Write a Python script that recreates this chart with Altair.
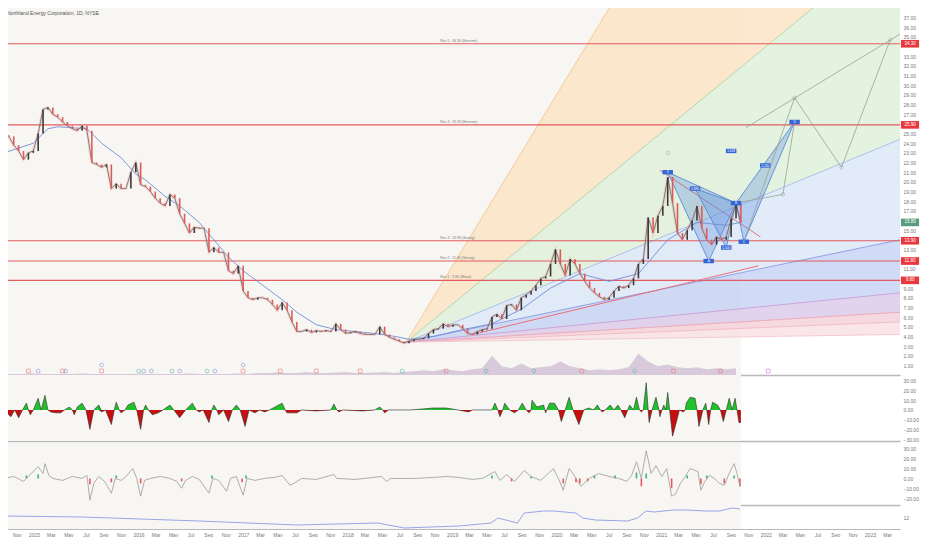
import altair as alt
import pandas as pd

# one time step = 3.411 calendar days
start = pd.Timestamp("2014-09-18")
step_days = 3.411
t_last_bar = 755
t_end = 918

title_text = "Northland Energy Corporation, 1D, NYSE"

# daily closes, sampled every 5 steps
close_t = list(range(0, 756, 5))
close = [24.8, 24.7, 23.8, 23.2, 22.3, 23.0, 23.2, 25.0, 27.5, 27.7,
         27.0, 26.7, 26.2, 25.8, 25.5, 25.3, 25.8, 25.3, 22.0, 21.8,
         21.5, 21.8, 19.3, 19.8, 19.3, 19.3, 21.0, 22.0, 19.7, 19.5,
         19.0, 18.3, 17.8, 17.5, 18.7, 18.3, 16.7, 15.7, 14.7, 15.3,
         15.2, 15.2, 12.7, 13.2, 12.7, 12.7, 10.8, 10.5, 11.3, 8.7,
         8.0, 7.8, 8.0, 8.0, 7.8, 7.3, 6.7, 7.5, 6.7, 5.5,
         4.5, 4.5, 4.7, 4.4, 4.6, 4.5, 4.6, 4.5, 5.3, 4.7,
         4.3, 4.4, 4.5, 4.3, 4.2, 4.2, 4.2, 5.0, 4.2, 3.9,
         3.7, 3.5, 3.3, 3.5, 3.7, 3.7, 3.8, 4.3, 4.7, 4.8,
         5.3, 5.0, 5.2, 5.2, 4.8, 4.3, 4.2, 4.5, 4.7, 4.8,
         6.0, 6.3, 5.8, 7.2, 7.3, 6.7, 8.0, 8.3, 8.7, 9.3,
         10.0, 10.2, 11.5, 13.0, 11.5, 10.3, 12.0, 11.5, 10.5, 9.7,
         9.0, 8.5, 8.1, 7.8, 8.0, 8.7, 9.2, 9.0, 9.3, 10.0,
         11.5, 12.0, 16.3, 14.7, 16.5, 17.5, 20.5, 17.8, 14.7, 14.0,
         15.0, 16.0, 17.5, 15.2, 14.0, 13.5, 14.3, 14.0, 14.3, 16.2,
         17.7, 15.8]

ma_t = [0, 30, 45, 55, 85, 100, 120, 135, 145, 165, 180, 200, 215, 230, 245, 265, 285, 300,
        320, 340, 360, 380, 400, 415, 440, 470, 500, 530, 560, 590, 620, 650, 680, 710, 740, 755]
ma = [23.0, 24.0, 25.5, 25.7, 25.5, 24.0, 22.5, 20.8, 20.2, 18.5, 17.5, 15.8, 14.0, 12.2, 10.8, 9.3, 7.8, 6.5,
      5.2, 4.7, 4.5, 4.3, 4.0, 3.7, 4.0, 4.7, 5.3, 6.8, 9.0, 10.5, 9.7, 10.5, 14.0, 15.8, 15.5, 15.8]

res_levels = [34.3, 25.9, 13.9, 11.8, 9.8]
res_labels = ["Res 5 : 34.30 (Extreme)", "Res 4 : 25.90 (Extreme)", "Res 3 : 13.90 (Strong)",
              "Res 2 : 11.80 (Strong)", "Res 1 : 9.80 (Minor)"]
last_price = 15.8

vol_t = list(range(0, 751, 10))
vol = [1, 1, 1, 1.5, 1, 1, 1, 1, 1.5, 1, 1, 1, 1, 1, 1.5, 1, 1, 1, 1, 1.5, 1, 1, 1, 1, 1.5, 1,
       2, 2, 2.5, 2, 2, 3, 2, 2, 2.5, 3, 2, 2, 2.5, 3, 2, 3,
       4, 5, 4, 6, 5, 4, 6, 7, 20, 9, 7, 12, 7, 8, 9, 14, 9, 7, 5, 6, 5, 6, 8, 22, 14, 9, 11, 8, 7, 8, 6, 7, 6, 7]

# event markers along the volume baseline
ev_red = [25, 60, 100, 245, 283, 320, 365, 453, 592, 686, 734]
ev_blue = [35, 63, 143, 151, 180, 216]
ev_blue_hi = [100, 245]
ev_teal = [138, 172, 208, 408, 494, 543, 646]
ev_pink = [783]

# fan from the low: origin and the price each ray reaches at the right edge
fan_t0, fan_p0 = 412, 3.4
fan_ray_end = [87.5, 45.4, 24.4, 14.0, 8.5, 6.5, 5.5, 4.2]
fan_fill = ["#fbe4c6", "#dff0da", "#dde9f8", "#c9d3f5", "#dccbea", "#f4d2da", "#f9e1e4"]
fan_stroke = ["#f3c08a", "#a5d1a2", "#97b8e8", "#7d92e0", "#c596d3", "#ea9dac", "#f0b4be", "#f3c2c9"]

# harmonic pattern points
pat_t = [680, 708, 722, 740, 750, 758, 810]
pat_p = [21.0, 19.3, 11.8, 13.2, 17.8, 13.8, 26.2]
pat_tris = [(0, 4, 2), (1, 4, 3), (4, 5, 6)]
tag_t = [680, 708, 722, 740, 750, 758, 810, 745, 780]
tag_p = [21.0, 19.3, 11.8, 13.2, 17.8, 13.8, 26.2, 23.2, 21.7]
tag_text = ["X", "0.886", "A", "0.500", "B", "C", "D", "1.618", "2.240"]

proj_lines = [([758, 810, 858, 908], [13.8, 28.7, 21.5, 34.7]),
              ([760, 918], [25.6, 35.3]),
              ([750, 798, 810], [17.8, 18.7, 26.2])]
proj_pt_t = [810, 858, 908, 798, 680]
proj_pt_p = [28.7, 21.5, 34.7, 18.7, 23.0]

trend_lines = [([672, 775], [21.2, 14.3]), ([480, 773], [4.2, 11.3])]

osc = [(0, 0), (7, -7), (11, 0), (15, -8), (19, 0), (23, 7), (25, 0), (27, -5), (30, 0), (35, 12), (38, 0),
       (42, 15), (45, 0), (48, -2), (53, -3), (58, -3), (62, 0), (67, 3), (70, 0), (72, -5), (74, 0), (75, 3),
       (80, 7), (84, 0), (88, -20), (92, 0), (97, 5), (100, -2), (104, 0), (110, -15), (113, 0), (115, 8),
       (118, 0), (120, -3), (124, 0), (127, 5), (133, 8), (136, 0), (140, -20), (143, 0), (145, 5), (148, 0),
       (152, -5), (158, -3), (163, 0), (170, 5), (174, 0), (180, -8), (186, 0), (193, 7), (197, 0), (200, -2),
       (204, 0), (210, -13), (213, 0), (215, 5), (218, 0), (220, -5), (225, 0), (230, -12), (234, 0), (238, 5),
       (242, 0), (247, -17), (251, 0), (257, -3), (262, 0), (267, -2), (272, 0), (285, 7), (288, 0), (290, -3),
       (300, -3), (305, 0), (320, -1), (335, 0), (338, 6), (341, 0), (343, -2), (347, 0), (367, -1), (380, 0),
       (385, 3), (388, 0), (390, -3), (394, 0), (417, 0), (440, 2), (453, 2), (465, 0), (476, -2), (480, 0),
       (500, 0), (503, 7), (506, 0), (508, -7), (511, 0), (513, 7), (518, 0), (523, -3), (527, 0), (531, 7),
       (535, 0), (538, -3), (540, 0), (541, 10), (546, 3), (553, 5), (554, 0), (555, -3), (556, 0), (559, 7),
       (564, 7), (568, 0), (571, -12), (575, 0), (579, 13), (583, 0), (589, -15), (594, 0), (599, 2), (604, 0),
       (608, 5), (611, 0), (613, -2), (616, 0), (621, 5), (625, 0), (629, 5), (632, 0), (636, -8), (639, 0),
       (641, 5), (645, 0), (648, 13), (651, 0), (653, -2), (655, 0), (658, 28), (660, 0), (661, -13), (664, 0),
       (668, 13), (671, 0), (672, -7), (674, 0), (676, 5), (678, 0), (680, 18), (682, 0), (685, -27), (689, -12),
       (692, 0), (696, -2), (698, 0), (699, 7), (703, 13), (708, 12), (710, 0), (712, -17), (716, 0), (719, 7),
       (720, 0), (722, -15), (724, 0), (726, 8), (731, 5), (734, 0), (737, -12), (740, 0), (743, 12), (746, 0),
       (749, 12), (751, 0), (753, -13), (755, -13)]

mom = [(0, 0), (10, 2), (20, -3), (25, 2), (35, 12), (40, 5), (42, 15), (46, 3), (50, 0), (60, -2), (70, 2),
       (80, 0), (85, 3), (88, -22), (92, -5), (97, 2), (103, -3), (110, -15), (114, 0), (120, -2), (125, 2),
       (132, 10), (136, 0), (140, -18), (144, -2), (150, 0), (160, 2), (170, 0), (177, -3), (182, -10),
       (186, -2), (193, 2), (200, -1), (210, -15), (214, 0), (220, -2), (228, -13), (232, 0), (238, 2),
       (245, -17), (249, 0), (257, -2), (267, 0), (277, 1), (285, 3), (293, -7), (297, -5), (305, 0), (320, -1),
       (338, 4), (341, 0), (360, -1), (387, 2), (392, -3), (396, 0), (420, 0), (440, 1), (453, 2), (466, 1),
       (480, -1), (490, 0), (503, 7), (508, -2), (515, 4), (523, -3), (533, 8), (540, 2), (550, -2), (563, 10),
       (568, 0), (573, -12), (579, 10), (585, 2), (591, -8), (600, 0), (609, 5), (620, 2), (630, 0), (638, -3),
       (643, 3), (648, 17), (653, 0), (658, 28), (663, 5), (668, 13), (674, 2), (679, 10), (684, -18),
       (688, -16), (693, -5), (698, 2), (703, 10), (711, 7), (714, -12), (718, -3), (723, 3), (728, 0),
       (733, -5), (738, -7), (743, 5), (748, 15), (751, 5), (754, -8)]
hist_t = [23, 35, 88, 110, 115, 140, 182, 213, 244, 248, 500, 520, 540, 573, 586, 590, 598, 605, 626, 648,
          653, 658, 684, 700, 714, 720, 738, 748, 754]
hist_v = [3, 4, -6, -4, 3, -5, -3, 3, -4, 3, 3, -3, 2, -5, -4, -5, -3, 3, 3, 6, -8, 5, -10, 3, -6, 3, -5, 3, -8]

ind_t = [0, 80, 200, 300, 383, 410, 466, 499, 506, 526, 533, 553, 563, 586, 593, 606, 639, 649, 658, 666,
         686, 699, 719, 733, 746, 754]
ind_v = [13, 12, 8, 4, 6, 1, 3, 6, 11, 6, 16, 18, 18, 16, 11, 9, 8, 11, 18, 17, 19, 19, 18, 18, 21, 20]


def when(t):
    return start + pd.to_timedelta(t * step_days, unit="D")


def frame(**cols):
    df = pd.DataFrame(cols)
    df["date"] = [when(t) for t in df["t"]]
    return df


def dt(ts):
    return alt.DateTime(year=ts.year, month=ts.month, date=ts.day, hours=ts.hour, minutes=ts.minute)


W = 896
H_MAIN, H_OSC, H_MOM, H_IND = 367, 66, 62, 24

xs = alt.Scale(domain=[dt(when(0)), dt(when(t_end))], nice=False)
hide_x = alt.Axis(labels=False, ticks=False, grid=False, domainColor="#b9b9b9", domainWidth=1.5, title=None)
bottom_x = alt.Axis(tickCount={"interval": "month", "step": 2}, ticks=False, grid=False,
                    domainColor="#b9b9b9", domainWidth=1, labelFontSize=5, labelColor="#777",
                    labelPadding=3, title=None,
                    labelExpr="month(datum.value) == 0 ? timeFormat(datum.value, '%Y') : timeFormat(datum.value, '%b')")


def X(axis=hide_x):
    return alt.X("date:T", scale=xs, axis=axis, title=None)


def right_axis(values, fmt):
    return alt.Axis(orient="right", values=values, format=fmt, labelFontSize=5, labelColor="#777",
                    ticks=False, domain=False, grid=False, labelPadding=3, title=None)


tag_levels = res_levels + [last_price]
ps = alt.Scale(domain=[0, 38], nice=False, zero=False)
# price labels hidden behind the axis tags are left out
py = right_axis([v for v in range(1, 38) if all(abs(v - l) > 0.6 for l in tag_levels)], ".2f")


def PY(field):
    return alt.Y(f"{field}:Q", scale=ps, axis=py, stack=None, title=None)


bg_df = pd.DataFrame({"date": [when(0)], "date2": [when(t_last_bar)]})


def background(axis=hide_x):
    return alt.Chart(bg_df).mark_rect(color="#f7f6f2").encode(x=X(axis), x2="date2:T")


# ---------- main pane ----------
prev = [close[0]] + close[:-1]
candles = frame(t=close_t, o=prev, c=close)
candles["col"] = ["#3a3a3a" if c >= o else "#e15a5a" for o, c in zip(prev, close)]

fan_rows = []
for i, col in enumerate(fan_fill):
    fan_rows.append({"t": fan_t0, "hi": fan_p0, "lo": fan_p0, "band": i, "col": col})
    fan_rows.append({"t": t_end, "hi": fan_ray_end[i], "lo": fan_ray_end[i + 1], "band": i, "col": col})
fan_df = frame(**pd.DataFrame(fan_rows).to_dict("list"))

ray_rows = []
for i, col in enumerate(fan_stroke):
    ray_rows.append({"t": fan_t0, "p": fan_p0, "ray": i, "col": col})
    ray_rows.append({"t": t_end, "p": fan_ray_end[i], "ray": i, "col": col})
ray_df = frame(**pd.DataFrame(ray_rows).to_dict("list"))

tri_rows, tri_edge = [], []
for k, idx in enumerate(pat_tris):
    pts = sorted((pat_t[j], pat_p[j]) for j in idx)
    (t1, p1), (t2, p2), (t3, p3) = pts
    mid = p1 + (p3 - p1) * (t2 - t1) / (t3 - t1)
    for t, a, b in [(t1, p1, p1), (t2, p2, mid), (t3, p3, p3)]:
        tri_rows.append({"t": t, "hi": max(a, b), "lo": min(a, b), "tri": k})
    for n, j in enumerate(list(idx) + [idx[0]]):
        tri_edge.append({"t": pat_t[j], "p": pat_p[j], "tri": k, "n": n})
tri_df = frame(**pd.DataFrame(tri_rows).to_dict("list"))
edge_df = frame(**pd.DataFrame(tri_edge).to_dict("list"))

proj_rows = [{"t": t, "p": p, "seg": k} for k, (ts, vs) in enumerate(proj_lines) for t, p in zip(ts, vs)]
proj_df = frame(**pd.DataFrame(proj_rows).to_dict("list"))
trend_rows = [{"t": t, "p": p, "seg": k} for k, (ts, vs) in enumerate(trend_lines) for t, p in zip(ts, vs)]
trend_df = frame(**pd.DataFrame(trend_rows).to_dict("list"))

res_df = pd.DataFrame({"p": res_levels, "label": res_labels})
res_lab_df = frame(t=[447] * len(res_levels), p=res_levels, label=res_labels)

tags = frame(t=[t_end] * len(tag_levels),
             p=tag_levels,
             label=[f"{v:.2f}" for v in tag_levels],
             col=["#e8383d"] * len(res_levels) + ["#5a9d7e"])

TAG = "M-1,-0.42L1,-0.42L1,0.42L-1,0.42Z"

fan_area = alt.Chart(fan_df).mark_area(clip=True, opacity=0.85).encode(
    x=X(), y=PY("hi"), y2="lo:Q", color=alt.Color("col:N", scale=None), detail="band:N")
fan_rays = alt.Chart(ray_df).mark_line(clip=True, strokeWidth=0.8).encode(
    x=X(), y=PY("p"), color=alt.Color("col:N", scale=None), detail="ray:N")
res_rules = alt.Chart(res_df).mark_rule(color="#e45a5e", strokeWidth=1.1).encode(y=PY("p"))
res_text = alt.Chart(res_lab_df).mark_text(align="left", dy=-3, fontSize=3.5, color="#777").encode(
    x=X(), y=PY("p"), text="label:N")
trend = alt.Chart(trend_df).mark_line(color="#e8707a", strokeWidth=1).encode(
    x=X(), y=PY("p"), detail="seg:N")
tri_area = alt.Chart(tri_df).mark_area(color="#5a8ede", opacity=0.33).encode(
    x=X(), y=PY("hi"), y2="lo:Q", detail="tri:N")
tri_line = alt.Chart(edge_df).mark_line(color="#4d7fd4", strokeWidth=0.8).encode(
    x=X(), y=PY("p"), detail="tri:N", order="n:Q")
proj = alt.Chart(proj_df).mark_line(clip=True, color="#97a397", strokeWidth=0.8).encode(
    x=X(), y=PY("p"), detail="seg:N")
proj_pts = alt.Chart(frame(t=proj_pt_t, p=proj_pt_p)).mark_point(
    shape="circle", size=12, color="#8a988a", strokeWidth=0.6).encode(x=X(), y=PY("p"))
ma_line = alt.Chart(frame(t=ma_t, p=ma)).mark_line(color="#6c8ed8", strokeWidth=0.9).encode(
    x=X(), y=PY("p"))
glow = alt.Chart(candles).mark_line(color="#eea3a3", strokeWidth=3, opacity=0.35, clip=True).encode(
    x=X(), y=PY("c"))
close_line = alt.Chart(candles).mark_line(color="#555555", strokeWidth=0.7).encode(
    x=X(), y=PY("c"))
bodies = alt.Chart(candles).mark_rule(strokeWidth=1.6, clip=True).encode(
    x=X(), y=PY("o"), y2="c:Q", color=alt.Color("col:N", scale=None))
ptag = alt.Chart(frame(t=tag_t, p=tag_p, label=tag_text)).mark_point(
    shape=TAG, size=110, filled=True, opacity=1, color="#3366d6").encode(x=X(), y=PY("p"))
ptag_text = alt.Chart(frame(t=tag_t, p=tag_p, label=tag_text)).mark_text(
    fontSize=3.2, color="white").encode(x=X(), y=PY("p"), text="label:N")
axis_tag = alt.Chart(tags).mark_point(shape=TAG, size=330, filled=True, opacity=1, xOffset=10).encode(
    x=X(), y=PY("p"), color=alt.Color("col:N", scale=None))
axis_tag_text = alt.Chart(tags).mark_text(dx=10, fontSize=4.5, color="white").encode(
    x=X(), y=PY("p"), text="label:N")
title = alt.Chart(pd.DataFrame({"a": [0]})).mark_text(
    align="left", baseline="top", fontSize=5, color="#555").encode(
    x=alt.value(3), y=alt.value(3), text=alt.value(title_text))

price_group = alt.layer(fan_area, fan_rays, res_rules, res_text, trend, tri_area, tri_line, proj, proj_pts,
                        ma_line, glow, close_line, bodies, ptag, ptag_text, axis_tag, axis_tag_text, title)

vs = alt.Scale(domain=[0, 380], nice=False)
vol_area = alt.Chart(frame(t=vol_t, v=vol)).mark_area(color="#cbb8d0", opacity=0.7).encode(
    x=X(), y=alt.Y("v:Q", scale=vs, axis=None, title=None))

ev_rows = ([{"t": t, "col": "#e57373", "shp": "square", "lvl": 0} for t in ev_red] +
           [{"t": t, "col": "#7f8bd4", "shp": "circle", "lvl": 0} for t in ev_blue] +
           [{"t": t, "col": "#7f8bd4", "shp": "circle", "lvl": 1} for t in ev_blue_hi] +
           [{"t": t, "col": "#4db6a0", "shp": "circle", "lvl": 0} for t in ev_teal] +
           [{"t": t, "col": "#e05ce8", "shp": "square", "lvl": 0} for t in ev_pink])
ev_df = frame(**pd.DataFrame(ev_rows).to_dict("list"))
ev_df["z"] = 0
ev_low = alt.Chart(ev_df).transform_filter("datum.lvl == 0").mark_point(
    size=14, strokeWidth=0.8, yOffset=-4).encode(
    x=X(), y=alt.Y("z:Q", scale=vs, axis=None), color=alt.Color("col:N", scale=None),
    shape=alt.Shape("shp:N", scale=None))
ev_high = alt.Chart(ev_df).transform_filter("datum.lvl == 1").mark_point(
    size=14, strokeWidth=0.8, yOffset=-10).encode(
    x=X(), y=alt.Y("z:Q", scale=vs, axis=None), color=alt.Color("col:N", scale=None),
    shape=alt.Shape("shp:N", scale=None))

vol_group = alt.layer(background(), vol_area, ev_low, ev_high)
main = alt.layer(vol_group, price_group).resolve_scale(y="independent").properties(width=W, height=H_MAIN)

# ---------- oscillator pane ----------
osc_df = frame(t=[a for a, b in osc], v=[b for a, b in osc])
osc_df["pos"] = osc_df["v"].clip(lower=0)
osc_df["neg"] = osc_df["v"].clip(upper=0)
oscale = alt.Scale(domain=[-32, 36], nice=False)
oaxis = right_axis([-30, -20, -10, 0, 10, 20, 30], ".2f")
osc_pane = alt.layer(
    background(),
    alt.Chart(osc_df).mark_area(color="#1fc22b").encode(
        x=X(), y=alt.Y("pos:Q", scale=oscale, axis=oaxis, stack=None), y2=alt.datum(0)),
    alt.Chart(osc_df).mark_area(color="#c70f0f").encode(
        x=X(), y=alt.Y("neg:Q", scale=oscale, axis=oaxis, stack=None), y2=alt.datum(0)),
    alt.Chart(osc_df).mark_line(color="#2a2a2a", strokeWidth=0.6).encode(
        x=X(), y=alt.Y("v:Q", scale=oscale, axis=oaxis)),
).properties(width=W, height=H_OSC)

# ---------- momentum pane ----------
mom_df = frame(t=[a for a, b in mom], v=[b for a, b in mom])
hist_df = frame(t=hist_t, v=hist_v)
hist_df["col"] = ["#3fae95" if v > 0 else "#e85a5a" for v in hist_v]
mscale = alt.Scale(domain=[-27, 36], nice=False)
maxis = right_axis([-20, -10, 0, 10, 20, 30], ".2f")
mom_pane = alt.layer(
    background(),
    alt.Chart(hist_df).mark_rule(strokeWidth=1.6).encode(
        x=X(), y=alt.Y("v:Q", scale=mscale, axis=maxis), y2=alt.datum(0),
        color=alt.Color("col:N", scale=None)),
    alt.Chart(mom_df).mark_line(color="#9a9a9a", strokeWidth=0.8).encode(
        x=X(), y=alt.Y("v:Q", scale=mscale, axis=maxis)),
).properties(width=W, height=H_MOM)

# ---------- indicator pane ----------
iscale = alt.Scale(domain=[0, 24], nice=False)
iaxis = right_axis([12], ".0f")
ind_pane = alt.layer(
    background(bottom_x),
    alt.Chart(frame(t=ind_t, v=ind_v)).mark_line(color="#8c9be6", strokeWidth=0.9).encode(
        x=X(bottom_x), y=alt.Y("v:Q", scale=iscale, axis=iaxis)),
).properties(width=W, height=H_IND)

chart = alt.vconcat(main, osc_pane, mom_pane, ind_pane, spacing=0).properties(
    padding={"left": -6, "top": 0, "right": 0, "bottom": 0}, background="white"
).configure_view(stroke=None)

chart.save("out.html", embed_options={"renderer": "svg", "actions": False})
